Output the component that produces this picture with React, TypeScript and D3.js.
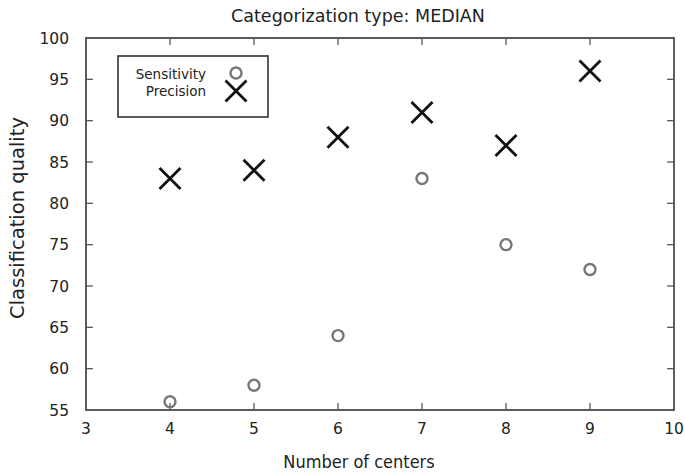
import React from "react";
import * as d3 from "d3";

const centers = [4, 5, 6, 7, 8, 9];
const sensitivity = [56, 58, 64, 83, 75, 72];
const precision = [83, 84, 88, 91, 87, 96];
const xTicks = [3, 4, 5, 6, 7, 8, 9, 10];
const yTicks = [55, 60, 65, 70, 75, 80, 85, 90, 95, 100];

const W = 685, H = 473;
const m = { left: 86, right: 11, top: 38, bottom: 63 };
const font = "DejaVu Sans, sans-serif";

export default function App() {
  const x = d3.scaleLinear().domain([3, 10]).range([m.left, W - m.right]);
  const y = d3.scaleLinear().domain([55, 100]).range([H - m.bottom, m.top]);
  const axisColor = "#555";
  const tl = 7;
  const cross = (cx: number, cy: number, s: number, key: string) => (
    <path key={key} d={`M${cx - s},${cy - s}L${cx + s},${cy + s}M${cx - s},${cy + s}L${cx + s},${cy - s}`} stroke="#111" strokeWidth={2.8} fill="none" />
  );
  return (
    <svg width={W} height={H} style={{ position: "absolute", left: 0, top: 0, background: "#fff" }}>
      <rect x={0} y={0} width={W} height={H} fill="#fff" />
      <text x={358} y={22} textAnchor="middle" fontFamily={font} fontSize={17.5} fill="#222">Categorization type: MEDIAN</text>
      {xTicks.map((t) => (
        <g key={"x" + t}>
          {t > 3 && t < 10 && (
            <>
              <line x1={x(t)} x2={x(t)} y1={y(55)} y2={y(55) - tl} stroke={axisColor} strokeWidth={1.3} />
              <line x1={x(t)} x2={x(t)} y1={y(100)} y2={y(100) + tl} stroke={axisColor} strokeWidth={1.3} />
            </>
          )}
          <text x={x(t)} y={y(55) + 24} textAnchor="middle" fontFamily={font} fontSize={15.5} fill="#222">{t}</text>
        </g>
      ))}
      {yTicks.map((t) => (
        <g key={"y" + t}>
          {t > 55 && t < 100 && (
            <>
              <line x1={x(3)} x2={x(3) + tl} y1={y(t)} y2={y(t)} stroke={axisColor} strokeWidth={1.3} />
              <line x1={x(10)} x2={x(10) - tl} y1={y(t)} y2={y(t)} stroke={axisColor} strokeWidth={1.3} />
            </>
          )}
          <text x={69} y={y(t) + 5.5} textAnchor="end" fontFamily={font} fontSize={15.5} fill="#222">{t}</text>
        </g>
      ))}
      <rect x={x(3)} y={y(100)} width={x(10) - x(3)} height={y(55) - y(100)} fill="none" stroke={axisColor} strokeWidth={1.9} />
      <text transform={`translate(24,218) rotate(-90)`} textAnchor="middle" fontFamily={font} fontSize={19.5} fill="#222">Classification quality</text>
      <text transform="translate(359,468) scale(0.9,1)" textAnchor="middle" fontFamily={font} fontSize={18} fill="#222">Number of centers</text>
      <rect x={118} y={56} width={150} height={61} fill="#fff" stroke="#333" strokeWidth={1.6} />
      <text x={206} y={78.5} textAnchor="end" fontFamily={font} fontSize={13.5} fill="#222">Sensitivity</text>
      <text x={206} y={95.5} textAnchor="end" fontFamily={font} fontSize={13.5} fill="#222">Precision</text>
      <circle cx={236} cy={73} r={5.5} fill="none" stroke="#777" strokeWidth={2.4} />
      {cross(236, 91, 10.5, "lg")}
      {centers.map((c, i) => (
        <circle key={"s" + i} cx={x(c)} cy={y(sensitivity[i])} r={5.5} fill="none" stroke="#777" strokeWidth={2.4} />
      ))}
      {centers.map((c, i) => cross(x(c), y(precision[i]), 10.5, "p" + i))}
    </svg>
  );
}
